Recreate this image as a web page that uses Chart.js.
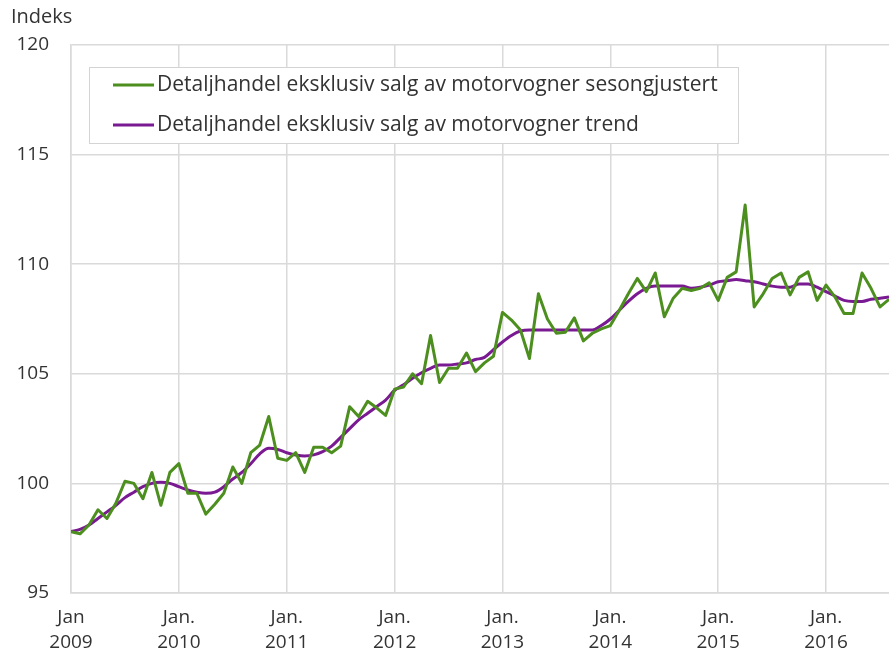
<!DOCTYPE html>
<html>
<head>
<meta charset="utf-8">
<script src="https://cdn.jsdelivr.net/npm/chart.js@4.4.1/dist/chart.umd.min.js"></script>
<style>
  body { margin: 0; background: #fff; }
  canvas { display: block; }
</style>
</head>
<body>
<canvas id="myChart" width="889" height="654"></canvas>
<script>
// monthly index, Jan 2009 - Aug 2016
const seasonal = [
  97.8, 97.7, 98.1, 98.8, 98.4, 99.1, 100.1, 100.0, 99.3, 100.5, 99.0, 100.5,
  100.9, 99.55, 99.55, 98.6, 99.05, 99.55, 100.75, 100.0, 101.4, 101.75, 103.05, 101.15,
  101.05, 101.4, 100.5, 101.65, 101.65, 101.4, 101.7, 103.5, 103.05, 103.75, 103.45, 103.1,
  104.3, 104.4, 105.0, 104.55, 106.75, 104.6, 105.25, 105.25, 105.95, 105.1, 105.5, 105.8,
  107.8, 107.45, 107.0, 105.7, 108.65, 107.5, 106.85, 106.9, 107.55, 106.5, 106.85, 107.05,
  107.2, 107.9, 108.65, 109.35, 108.75, 109.6, 107.6, 108.45, 108.9, 108.8, 108.9, 109.15,
  108.35, 109.4, 109.65, 112.7, 108.05, 108.65, 109.35, 109.6, 108.6, 109.4, 109.65, 108.35,
  109.05, 108.5, 107.75, 107.75, 109.6, 108.9, 108.05, 108.4
];
const trend = [
  97.8, 97.9, 98.1, 98.4, 98.7, 99.0, 99.35, 99.6, 99.85, 100.0, 100.05, 100.0,
  99.85, 99.7, 99.6, 99.55, 99.6, 99.85, 100.2, 100.5, 100.9, 101.35, 101.6, 101.55,
  101.4, 101.3, 101.25, 101.3, 101.45, 101.7, 102.1, 102.5, 102.9, 103.2, 103.5, 103.8,
  104.25, 104.5, 104.8, 105.05, 105.25, 105.4, 105.4, 105.45, 105.5, 105.65, 105.75, 106.1,
  106.45, 106.75, 106.95, 107.0, 107.0, 107.0, 107.0, 107.0, 107.0, 107.0, 107.0, 107.2,
  107.5, 107.9, 108.3, 108.65, 108.9, 109.0, 109.0, 109.0, 109.0, 108.9, 108.95, 109.05,
  109.2, 109.25, 109.3, 109.25, 109.2, 109.1, 109.0, 108.95, 108.95, 109.1, 109.1, 108.95,
  108.75, 108.55, 108.35, 108.3, 108.3, 108.4, 108.45, 108.5
];
const seriesNames = [
  'Detaljhandel eksklusiv salg av motorvogner sesongjustert',
  'Detaljhandel eksklusiv salg av motorvogner trend'
];
const xTickPos = [0, 12, 24, 36, 48, 60, 72, 84];
const xTickLabels = [
  ['Jan', '2009'], ['Jan.', '2010'], ['Jan.', '2011'], ['Jan.', '2012'],
  ['Jan.', '2013'], ['Jan.', '2014'], ['Jan.', '2015'], ['Jan.', '2016']
];
const yTitle = 'Indeks';

const green = '#4c8f1f';
const purple = '#7a1a92';
const gridColor = '#dadada';
const textColor = '#333333';
const fontFamily = "'Open Sans', sans-serif";

// legend box + axis title drawn on top of the plot
const overlay = {
  id: 'overlay',
  afterDraw(chart) {
    const ctx = chart.ctx;
    ctx.save();
    ctx.fillStyle = textColor;
    ctx.font = '20px ' + fontFamily;
    ctx.textBaseline = 'middle';
    ctx.textAlign = 'left';
    ctx.fillText(yTitle, 11, 17);

    const bx = 89.5, by = 67.5, bw = 649, bh = 76;
    ctx.fillStyle = '#fff';
    ctx.fillRect(bx, by, bw, bh);
    ctx.strokeStyle = '#d4d4d4';
    ctx.lineWidth = 1;
    ctx.strokeRect(bx, by, bw, bh);

    const rows = [85, 125];
    chart.data.datasets.forEach((ds, i) => {
      ctx.strokeStyle = ds.borderColor;
      ctx.lineWidth = 3;
      ctx.beginPath();
      ctx.moveTo(113, rows[i]);
      ctx.lineTo(154, rows[i]);
      ctx.stroke();
      ctx.fillStyle = textColor;
      ctx.font = '21px ' + fontFamily;
      ctx.fillText(ds.label, 157, rows[i]);
    });
    ctx.restore();
  }
};

const ctx = document.getElementById('myChart').getContext('2d');
new Chart(ctx, {
  type: 'line',
  data: {
    datasets: [
      {
        label: seriesNames[0],
        data: seasonal.map((v, i) => ({ x: i, y: v })),
        borderColor: green,
        borderWidth: 3,
        pointRadius: 0,
        tension: 0,
        borderJoinStyle: 'round'
      },
      {
        label: seriesNames[1],
        data: trend.map((v, i) => ({ x: i, y: v })),
        borderColor: purple,
        borderWidth: 3,
        pointRadius: 0,
        tension: 0.4,
        cubicInterpolationMode: 'monotone'
      }
    ]
  },
  options: {
    responsive: false,
    animation: false,
    layout: { padding: { top: 45, right: 0, bottom: 0, left: 0 } },
    plugins: {
      legend: { display: false },
      tooltip: { enabled: false }
    },
    scales: {
      x: {
        type: 'linear',
        min: 0,
        max: seasonal.length - 1,
        afterBuildTicks: (scale) => {
          scale.ticks = xTickPos.map(v => ({ value: v }));
        },
        afterFit: (scale) => { scale.height = 61; },
        ticks: {
          autoSkip: false,
          maxRotation: 0,
          padding: 12,
          color: textColor,
          font: { family: fontFamily, size: 19, lineHeight: 1.32 },
          callback: (value) => xTickLabels[xTickPos.indexOf(value)]
        },
        grid: { color: gridColor, lineWidth: 1.5, drawTicks: false },
        border: { color: gridColor, width: 1.5 }
      },
      y: {
        min: 95,
        max: 120,
        afterFit: (scale) => { scale.width = 71; },
        ticks: {
          stepSize: 5,
          padding: 22,
          color: textColor,
          font: { family: fontFamily, size: 19 }
        },
        grid: { color: gridColor, lineWidth: 1.5, drawTicks: false },
        border: { color: gridColor, width: 1.5 }
      }
    }
  },
  plugins: [overlay]
});
</script>
</body>
</html>
